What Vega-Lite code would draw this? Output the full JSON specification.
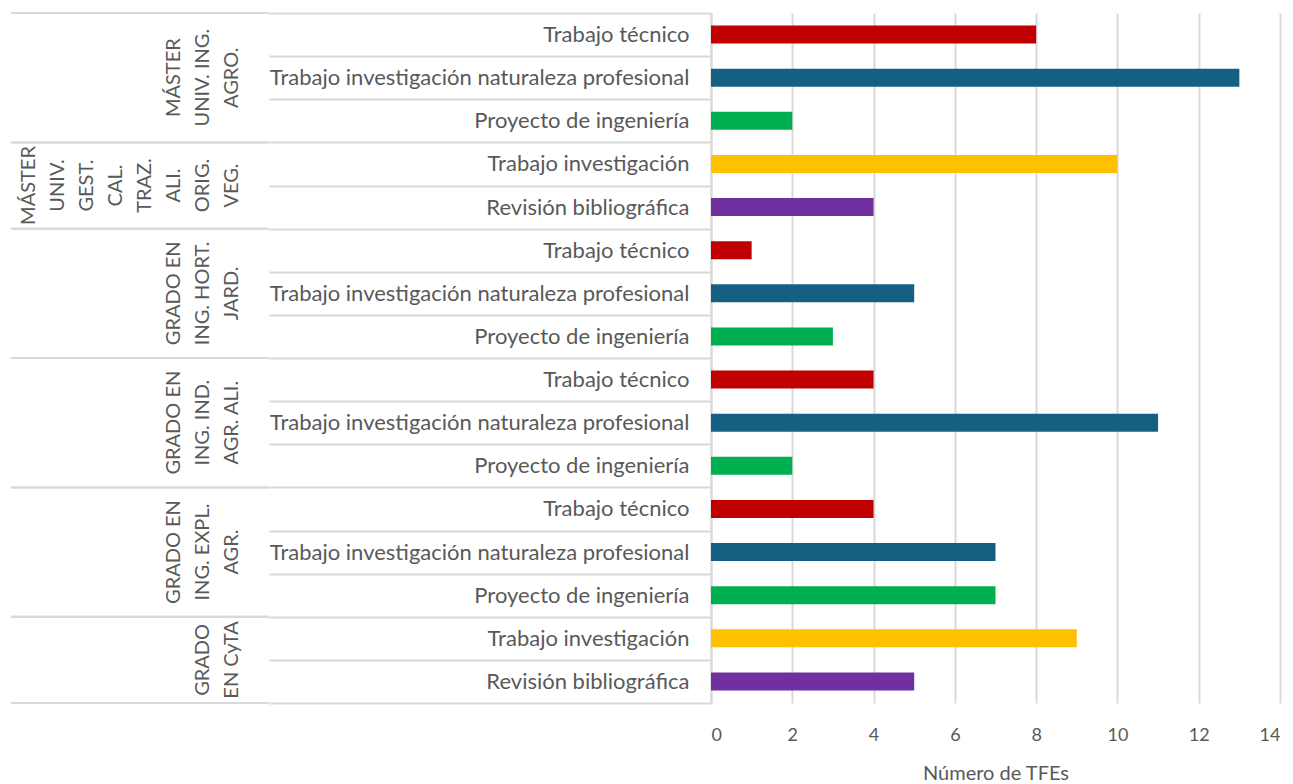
{
  "$schema": "https://vega.github.io/schema/vega-lite/v6.json",
  "padding": {"left": 10, "top": 2, "right": 5, "bottom": 5},
  "background": "white",
  "spacing": 442,
  "bounds": "flush",
  "config": {
    "view": {"stroke": null},
    "font": "Lato"
  },
  "data": {
    "values": [
      {"group": "MÁSTER|UNIV. ING.|AGRO.", "category": "Trabajo técnico", "key": "Trabajo técnico#1", "value": 8},
      {"group": "MÁSTER|UNIV. ING.|AGRO.", "category": "Trabajo investigación naturaleza profesional", "key": "Trabajo investigación naturaleza profesional#1", "value": 13},
      {"group": "MÁSTER|UNIV. ING.|AGRO.", "category": "Proyecto de ingeniería", "key": "Proyecto de ingeniería#1", "value": 2},
      {"group": "MÁSTER|UNIV.|GEST.|CAL.|TRAZ.|ALI.|ORIG.|VEG.", "category": "Trabajo investigación", "key": "Trabajo investigación#2", "value": 10},
      {"group": "MÁSTER|UNIV.|GEST.|CAL.|TRAZ.|ALI.|ORIG.|VEG.", "category": "Revisión bibliográfica", "key": "Revisión bibliográfica#2", "value": 4},
      {"group": "GRADO EN|ING. HORT.|JARD.", "category": "Trabajo técnico", "key": "Trabajo técnico#3", "value": 1},
      {"group": "GRADO EN|ING. HORT.|JARD.", "category": "Trabajo investigación naturaleza profesional", "key": "Trabajo investigación naturaleza profesional#3", "value": 5},
      {"group": "GRADO EN|ING. HORT.|JARD.", "category": "Proyecto de ingeniería", "key": "Proyecto de ingeniería#3", "value": 3},
      {"group": "GRADO EN|ING. IND.|AGR. ALI.", "category": "Trabajo técnico", "key": "Trabajo técnico#4", "value": 4},
      {"group": "GRADO EN|ING. IND.|AGR. ALI.", "category": "Trabajo investigación naturaleza profesional", "key": "Trabajo investigación naturaleza profesional#4", "value": 11},
      {"group": "GRADO EN|ING. IND.|AGR. ALI.", "category": "Proyecto de ingeniería", "key": "Proyecto de ingeniería#4", "value": 2},
      {"group": "GRADO EN|ING. EXPL.|AGR.", "category": "Trabajo técnico", "key": "Trabajo técnico#5", "value": 4},
      {"group": "GRADO EN|ING. EXPL.|AGR.", "category": "Trabajo investigación naturaleza profesional", "key": "Trabajo investigación naturaleza profesional#5", "value": 7},
      {"group": "GRADO EN|ING. EXPL.|AGR.", "category": "Proyecto de ingeniería", "key": "Proyecto de ingeniería#5", "value": 7},
      {"group": "GRADO|EN CyTA", "category": "Trabajo investigación", "key": "Trabajo investigación#6", "value": 9},
      {"group": "GRADO|EN CyTA", "category": "Revisión bibliográfica", "key": "Revisión bibliográfica#6", "value": 5}
    ]
  },
  "hconcat": [
    {
      "width": 258,
      "height": 690,
      "layer": [
        {
          "mark": {"type": "rule", "color": "#D9D9D9", "strokeWidth": 2},
          "encoding": {
            "y": {"field": "key", "type": "nominal", "sort": null, "bandPosition": 0, "axis": null,
                  "scale": {"paddingInner": 0, "paddingOuter": 0}},
            "strokeOpacity": {"condition": {"test": "datum.category === 'Trabajo técnico' || datum.category === 'Trabajo investigación'", "value": 1}, "value": 0}
          }
        },
        {
          "mark": {"type": "rule", "color": "#D9D9D9", "strokeWidth": 2},
          "encoding": {
            "y": {"field": "key", "type": "nominal", "sort": null, "bandPosition": 1, "axis": null},
            "strokeOpacity": {"condition": {"test": "datum.category === 'Proyecto de ingeniería' || datum.category === 'Revisión bibliográfica'", "value": 1}, "value": 0}
          }
        },
        {
          "transform": [{"filter": "datum.category === 'Trabajo investigación naturaleza profesional'"}],
          "mark": {"type": "text", "angle": 270, "lineBreak": "|", "align": "center", "baseline": "bottom",
                   "dy": {"expr": "102 - (length(split(datum.group, '|')) - 1) * 29"},
                   "fontSize": 20, "lineHeight": 29, "color": "#595959", "font": "Lato"},
          "encoding": {
            "y": {"field": "key", "type": "nominal", "sort": null, "bandPosition": 0.5, "axis": null},
            "text": {"field": "group", "type": "nominal"}
          }
        },
        {
          "transform": [{"filter": "datum.category === 'Trabajo investigación'"}],
          "mark": {"type": "text", "angle": 270, "lineBreak": "|", "align": "center", "baseline": "bottom",
                   "dy": {"expr": "102 - (length(split(datum.group, '|')) - 1) * 29"},
                   "fontSize": 20, "lineHeight": 29, "color": "#595959", "font": "Lato"},
          "encoding": {
            "y": {"field": "key", "type": "nominal", "sort": null, "bandPosition": 1, "axis": null},
            "text": {"field": "group", "type": "nominal"}
          }
        }
      ]
    },
    {
      "width": 569,
      "height": 690,
      "mark": {"type": "bar", "height": {"band": 0.42}},
      "encoding": {
        "y": {
          "field": "key", "type": "nominal", "sort": null,
          "scale": {"paddingInner": 0, "paddingOuter": 0},
          "axis": {"title": null, "labelExpr": "datum.value ? split(datum.value, '#')[0] : ''", "tickBand": "extent", "tickSize": 442,
                   "tickColor": "#D9D9D9", "tickWidth": 2, "domainColor": "#D9D9D9", "domainWidth": 2,
                   "labelPadding": -420, "labelFontSize": 22, "labelColor": "#595959", "labelLimit": 0, "labelFont": "Lato"}
        },
        "x": {
          "field": "value", "type": "quantitative", "scale": {"domain": [0, 14]},
          "axis": {"values": [0, 2, 4, 6, 8, 10, 12, 14], "grid": true, "gridColor": "#D9D9D9", "gridWidth": 2,
                   "domain": false, "ticks": false, "labelFontSize": 18, "labelColor": "#595959", "labelPadding": 23,
                   "labelFont": "Lato", "title": "Número de TFEs", "titleFontSize": 20, "titleColor": "#595959",
                   "titleFontWeight": "normal", "titleFont": "Lato", "titlePadding": 19}
        },
        "color": {
          "field": "category", "type": "nominal",
          "scale": {"domain": ["Trabajo técnico", "Trabajo investigación naturaleza profesional", "Proyecto de ingeniería", "Trabajo investigación", "Revisión bibliográfica"],
                    "range": ["#C00000", "#156082", "#00B050", "#FFC000", "#7030A0"]},
          "legend": null
        }
      }
    }
  ]
}
